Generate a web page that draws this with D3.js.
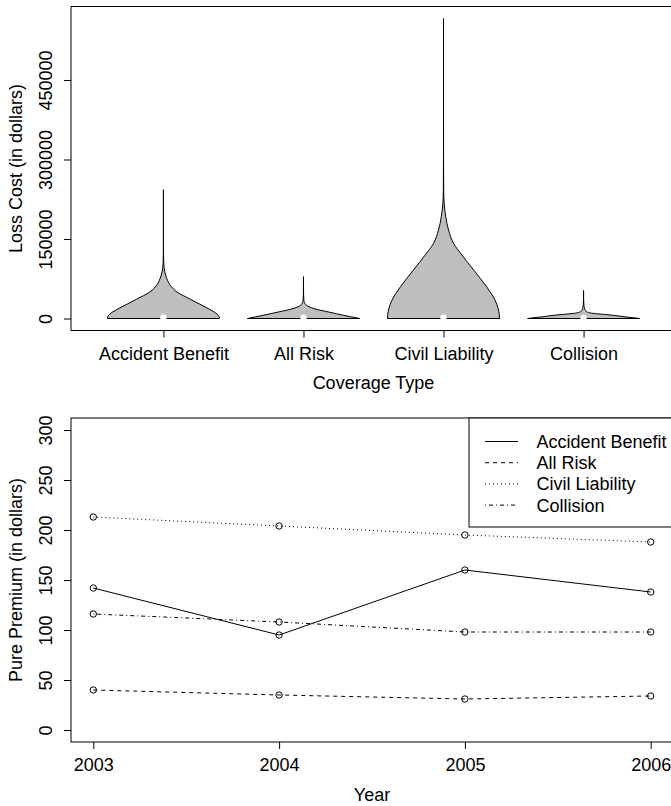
<!DOCTYPE html>
<html>
<head>
<meta charset="utf-8">
<script src="https://cdn.jsdelivr.net/npm/d3@7/dist/d3.min.js"></script>
<style>
  body { margin: 0; background: #fff; }
  svg { display: block; }
  text { font-family: 'Liberation Sans', Arial, Helvetica, sans-serif; font-size: 18px; fill: #000; }
</style>
</head>
<body>
<div id="chart"></div>
<script>
// ---- top panel: loss cost violins ----
const coverageTypes = ['Accident Benefit', 'All Risk', 'Civil Liability', 'Collision']
const lossTicks = [0, 150000, 300000, 450000]
const lossMedians = [2000, 1500, 2000, 1000]

// density outline of each violin: [loss cost, width relative to widest]
const accidentBenefitDensity = [
  [0, 1], [3000, 0.995], [8100, 0.96], [17000, 0.83], [27000, 0.65], [36400, 0.48],
  [50200, 0.24], [62800, 0.12], [75400, 0.06], [88000, 0.024], [103800, 0.006],
  [122600, 0.0015], [160000, 0.0004], [243000, 0]
]
const allRiskDensity = [
  [0, 1], [3000, 0.86], [6000, 0.72], [12000, 0.46], [18000, 0.21], [22000, 0.1],
  [27000, 0.035], [34000, 0.008], [45000, 0.002], [79000, 0]
]
const civilLiabilityDensity = [
  [0, 1], [8000, 0.995], [18900, 0.975], [34600, 0.92], [59700, 0.77], [91200, 0.54],
  [119500, 0.33], [141500, 0.18], [166700, 0.09], [191800, 0.04], [217000, 0.012],
  [240000, 0.003], [300000, 0.0005], [566000, 0]
]
const collisionDensity = [
  [0, 1], [3200, 0.74], [6400, 0.5], [10200, 0.14], [12500, 0.06], [15900, 0.03],
  [21000, 0.012], [27200, 0.005], [36000, 0.001], [52800, 0]
]
const densities = [accidentBenefitDensity, allRiskDensity, civilLiabilityDensity, collisionDensity]

// ---- bottom panel: pure premium by year ----
const years = [2003, 2004, 2005, 2006]
const premiumTicks = [0, 50, 100, 150, 200, 250, 300]
const accidentBenefitPremium = [142, 95, 160, 138]
const allRiskPremium = [40, 35, 31, 34]
const civilLiabilityPremium = [213, 204, 195, 188]
const collisionPremium = [116, 108, 98, 98]

const width = 671
const height = 806
const font = 18

const dashes = {
  'Accident Benefit': null,
  'All Risk': '4,4',
  'Civil Liability': '1,3',
  'Collision': '1,3,4,3',
}

const series = [
  { name: 'Accident Benefit', values: accidentBenefitPremium },
  { name: 'All Risk', values: allRiskPremium },
  { name: 'Civil Liability', values: civilLiabilityPremium },
  { name: 'Collision', values: collisionPremium },
]

// R style axis range: data limits padded by 4% each side
const pad = ([a, b]) => [a - (b - a) * 0.04, b + (b - a) * 0.04]

const svg = d3
  .select('#chart')
  .append('svg')
  .attr('width', width)
  .attr('height', height)
  .attr('viewBox', `0 0 ${width} ${height}`)

svg.append('rect').attr('width', width).attr('height', height).attr('fill', '#fff')

const leftAxis = (g, scale, ticks, fmt) =>
  g
    .call(d3.axisLeft(scale).tickValues(ticks).tickSize(7).tickFormat(fmt))
    .call(g => g.select('.domain').remove())
    .call(g =>
      g
        .selectAll('.tick text')
        .attr('x', null)
        .attr('dy', null)
        .attr('text-anchor', 'middle')
        .attr('transform', 'translate(-19,0) rotate(-90)')
    )

const bottomAxis = (g, scale, ticks, fmt) =>
  g
    .call(d3.axisBottom(scale).tickValues(ticks).tickSize(7).tickFormat(fmt))
    .call(g => g.select('.domain').remove())
    .call(g => g.selectAll('.tick text').attr('y', 29).attr('dy', null).attr('text-anchor', 'middle'))

// ============ top panel ============
const boxTop = { left: 71, right: 676, top: 6.5, bottom: 330.5 }

const xCov = d3
  .scaleLinear()
  .domain(pad([0.5, coverageTypes.length + 0.5]))
  .range([boxTop.left, boxTop.right])

const maxLoss = d3.max(densities, d => d3.max(d, p => p[0]))
const yLoss = d3.scaleLinear().domain(pad([0, maxLoss])).range([boxTop.bottom, boxTop.top])

const halfWidth = xCov(1.4) - xCov(1)

const violins = svg.append('g')
densities.forEach((dens, i) => {
  const cx = xCov(i + 1)
  const area = d3
    .area()
    .curve(d3.curveMonotoneY)
    .y(d => yLoss(d[0]))
    .x0(d => cx - d[1] * halfWidth)
    .x1(d => cx + d[1] * halfWidth)

  violins
    .append('path')
    .attr('d', area(dens))
    .attr('fill', '#bebebe')
    .attr('stroke', '#000')
    .attr('stroke-width', 1)
    .attr('stroke-linejoin', 'round')
})

violins
  .selectAll('circle')
  .data(lossMedians)
  .join('circle')
  .attr('cx', (d, i) => xCov(i + 1))
  .attr('cy', d => yLoss(d))
  .attr('r', 3.2)
  .attr('fill', '#fff')

svg
  .append('rect')
  .attr('x', boxTop.left)
  .attr('y', boxTop.top)
  .attr('width', boxTop.right - boxTop.left)
  .attr('height', boxTop.bottom - boxTop.top)
  .attr('fill', 'none')
  .attr('stroke', '#000')

svg
  .append('g')
  .attr('transform', `translate(${boxTop.left},0)`)
  .call(g => leftAxis(g, yLoss, lossTicks, d3.format('d')))

svg
  .append('g')
  .attr('transform', `translate(0,${boxTop.bottom})`)
  .call(g => bottomAxis(g, xCov, coverageTypes.map((d, i) => i + 1), i => coverageTypes[i - 1]))

svg
  .append('text')
  .attr('x', (xCov(1) + xCov(4)) / 2)
  .attr('y', boxTop.bottom + 58)
  .attr('text-anchor', 'middle')
  .text('Coverage Type')

svg
  .append('text')
  .attr('transform', `translate(22,${(boxTop.top + boxTop.bottom) / 2}) rotate(-90)`)
  .attr('text-anchor', 'middle')
  .text('Loss Cost (in dollars)')

// ============ bottom panel ============
const boxBot = { left: 71, right: 673, top: 418, bottom: 742 }

const xYear = d3.scaleLinear().domain(pad(d3.extent(years))).range([boxBot.left, boxBot.right])
const yPrem = d3.scaleLinear().domain(pad([0, 300])).range([boxBot.bottom, boxBot.top])

const line = d3
  .line()
  .x((d, i) => xYear(years[i]))
  .y(d => yPrem(d))

const lines = svg.append('g')
series.forEach(s => {
  lines
    .append('path')
    .attr('d', line(s.values))
    .attr('fill', 'none')
    .attr('stroke', '#000')
    .attr('stroke-width', 1)
    .attr('stroke-dasharray', dashes[s.name])

  lines
    .append('g')
    .selectAll('circle')
    .data(s.values)
    .join('circle')
    .attr('cx', (d, i) => xYear(years[i]))
    .attr('cy', d => yPrem(d))
    .attr('r', 3.2)
    .attr('fill', 'none')
    .attr('stroke', '#000')
})

svg
  .append('rect')
  .attr('x', boxBot.left)
  .attr('y', boxBot.top)
  .attr('width', boxBot.right - boxBot.left)
  .attr('height', boxBot.bottom - boxBot.top)
  .attr('fill', 'none')
  .attr('stroke', '#000')

svg
  .append('g')
  .attr('transform', `translate(${boxBot.left},0)`)
  .call(g => leftAxis(g, yPrem, premiumTicks, d3.format('d')))

svg
  .append('g')
  .attr('transform', `translate(0,${boxBot.bottom})`)
  .call(g => bottomAxis(g, xYear, years, d3.format('d')))

svg
  .append('text')
  .attr('x', (xYear(2003) + xYear(2006)) / 2)
  .attr('y', boxBot.bottom + 59)
  .attr('text-anchor', 'middle')
  .text('Year')

svg
  .append('text')
  .attr('transform', `translate(22,${(boxBot.top + boxBot.bottom) / 2}) rotate(-90)`)
  .attr('text-anchor', 'middle')
  .text('Pure Premium (in dollars)')

// legend, top right
const legend = svg.append('g').attr('transform', `translate(469,${boxBot.top})`)

legend
  .append('rect')
  .attr('width', boxBot.right - 469)
  .attr('height', 109)
  .attr('fill', '#fff')
  .attr('stroke', '#000')

const legendRow = legend
  .selectAll('.legend')
  .data(series)
  .join('g')
  .attr('class', 'legend')
  .attr('transform', (d, i) => `translate(0,${23.5 + i * 21.2})`)

legendRow
  .append('line')
  .attr('x1', 16)
  .attr('x2', 49)
  .attr('stroke', '#000')
  .attr('stroke-dasharray', d => dashes[d.name])

legendRow
  .append('text')
  .attr('x', 67.5)
  .attr('dy', '0.36em')
  .text(d => d.name)
</script>
</body>
</html>
